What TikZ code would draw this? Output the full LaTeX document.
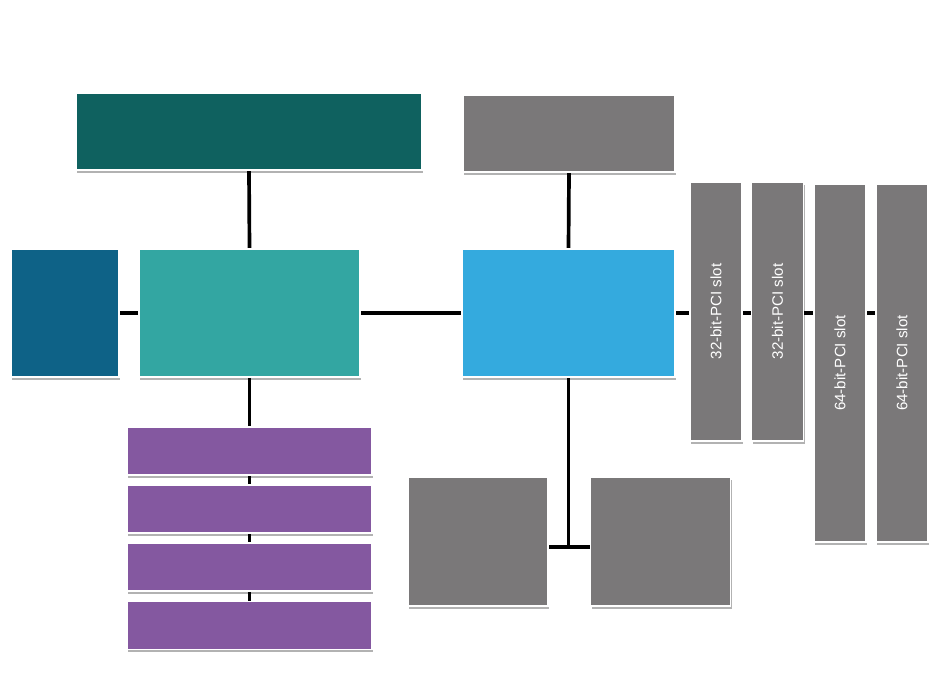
\documentclass[tikz,border=0pt]{standalone}
\usepackage{fontspec}
\setmainfont{Liberation Sans}
\usetikzlibrary{positioning, calc, backgrounds, shadows}
\definecolor{sarcelleFonce}{RGB}{15, 97, 95}
\definecolor{sarcelle}{RGB}{51, 166, 162}
\definecolor{bleuPetrole}{RGB}{14, 98, 135}
\definecolor{bleuCiel}{RGB}{52, 170, 222}
\definecolor{griBoite}{RGB}{122, 120, 121}
\definecolor{violetBus}{RGB}{132, 88, 160}

\begin{document}
\begin{tikzpicture}[
  box/.style={rectangle, draw=white, line width=1.1pt, inner sep=0pt,
    drop shadow={shadow xshift=0.6pt, shadow yshift=-1.6pt,
      opacity=0.3, fill=black}},
  slot/.style={box, fill=griBoite, minimum width=1.04cm, text=white,
    font=\fontsize{8.6}{10}\selectfont},
  bus/.style={box, fill=violetBus, minimum width=4.9cm, minimum height=0.96cm},
  wire/.style={line width=2.1pt, black},
]
\useasboundingbox (0,0) rectangle (18.88,13.62);
% top row
\node[box, fill=sarcelleFonce, minimum width=6.92cm, minimum height=1.54cm] (cpu) at (4.98, 10.99) {};
\node[box, fill=griBoite, minimum width=4.24cm, minimum height=1.54cm] (agp) at (11.38, 10.95) {};
% middle row
\node[box, fill=bleuPetrole, minimum width=2.16cm, minimum height=2.56cm] (cache) at (1.30, 7.36) {};
\node[box, fill=sarcelle, minimum width=4.42cm, minimum height=2.56cm] (north) at (4.99, 7.36) {};
\node[box, fill=bleuCiel, minimum width=4.26cm, minimum height=2.56cm] (south) at (11.37, 7.36) {};
% slots
\node[slot, minimum height=5.18cm] (s1) at (14.32, 7.39) {\rotatebox{90}{32-bit-PCI slot}};
\node[slot, minimum height=5.18cm] (s2) at (15.55, 7.39) {\rotatebox{90}{32-bit-PCI slot}};
\node[slot, minimum height=7.16cm] (s3) at (16.80, 6.36) {\rotatebox{90}{64-bit-PCI slot}};
\node[slot, minimum height=7.16cm] (s4) at (18.04, 6.36) {\rotatebox{90}{64-bit-PCI slot}};
% memory banks
\node[bus] (m1) at (4.99, 4.60) {};
\node[bus] (m2) at (4.99, 3.44) {};
\node[bus] (m3) at (4.99, 2.28) {};
\node[bus] (m4) at (4.99, 1.11) {};
% bottom boxes
\node[box, fill=griBoite, minimum width=2.80cm, minimum height=2.58cm] (ide) at (9.56, 2.79) {};
\node[box, fill=griBoite, minimum width=2.80cm, minimum height=2.58cm] (usb) at (13.21, 2.79) {};
\coordinate (jn) at (11.37, 2.68);

\begin{scope}[on background layer]
\draw[wire] (cpu.south) -- (north.north);
\draw[wire] (agp.south) -- (south.north);
\draw[wire] (cache.east) -- (north.west);
\draw[wire] (north.east) -- (south.west);
\draw[wire] (south.east) -- (s4.west |- south.east);
\draw[wire] (north.south) -- (m4.north);
\draw[wire] (south.south) -- (jn);
\draw[wire] (ide.east |- jn) -- (usb.west |- jn);
\end{scope}
\end{tikzpicture}
\end{document}
